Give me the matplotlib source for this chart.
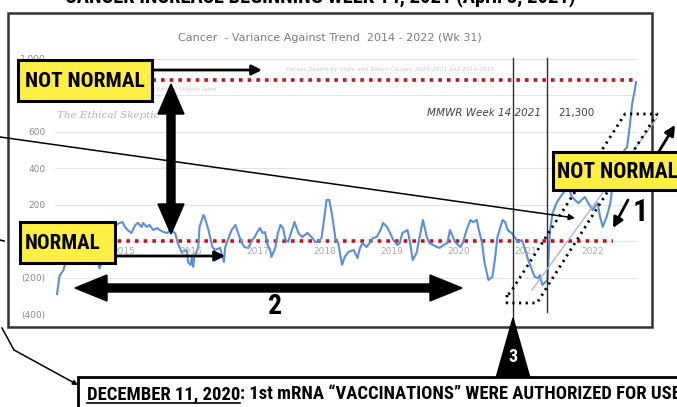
import matplotlib.pyplot as plt
from matplotlib.patches import Rectangle, Polygon
import numpy as np

# weekly variance vs trend, week 0 = 2014 wk 1
weeks = [0, 2, 5, 7, 9, 12, 15, 18, 22, 26, 30, 33, 36, 40, 43, 46, 49, 51, 53, 55, 58,
         61, 63, 66, 67, 70, 72, 75, 78, 80, 83, 86, 88, 92, 94, 97, 101, 102, 104, 105, 106,
         107, 110, 111, 114, 115, 118, 121, 123, 127, 129, 130, 131, 133, 136, 139, 141, 144, 146, 149, 152,
         154, 156, 158, 160, 162, 164, 166, 167, 170, 172, 174, 176, 178, 180, 183, 185, 188, 191, 193, 195,
         199, 201, 203, 206, 209, 210, 212, 214, 217, 219, 222, 224, 227, 231, 234, 236, 238, 241, 244, 246,
         249, 252, 254, 257, 259, 262, 265, 267, 269, 273, 275, 277, 280, 283, 285, 288, 290, 293, 296, 298,
         301, 304, 306, 310, 314, 316, 319, 322, 324, 327, 328, 331, 333, 336, 339, 341, 343, 347, 349, 351,
         354, 357, 359, 362, 364, 367, 370, 372, 375, 376, 378, 382, 383, 384, 386, 389, 392, 396, 398, 401,
         406, 411, 417, 421, 423, 425, 428, 431, 432, 435, 438, 442, 444, 446, 448, 450, 451]
variance = [-290, -190, -160, -110, -60, -20, -50, 10, -30, 20, -40, -150, -100, -10, 50, 88, 99, 104, 77, 60, 44,
            88, 99, 77, 99, 77, 88, 60, 71, 60, 49, 44, 60, 44, -11, -60, -49, -115, -131, -93, -142,
            -88, -33, 77, 142, 131, 60, -33, -49, -38, -88, -115, -33, 5, 60, 88, 44, -11, -33, -38, 5,
            22, 49, 71, 44, 49, -22, -49, -88, -38, 44, 88, 71, 5, -5, 60, 104, 44, 22, 33, 44,
            16, -5, -5, 16, 170, 225, 225, 153, 5, -11, -131, -88, -60, -49, -93, -38, -11, -33, -5, 16,
            22, 60, 99, 77, 49, 5, -22, -11, 44, 60, -11, -104, -66, 44, 115, 22, -11, -22, -33, -38,
            -22, -11, 60, -5, -33, -11, 60, 115, 104, 115, 77, -11, -120, -214, -197, -104, 22, 115, 104, 60,
            44, 16, -5, 5, -33, -104, -159, -197, -203, -186, -241, -214, -66, 60, 153, 208, 241, 280, 300, 241,
            208, 241, 170, 208, 131, 77, 131, 208, 268, 350, 430, 499, 515, 625, 756, 827, 871]

years = ['2015', '2016', '2017', '2018', '2019', '2020', '2021', '2022']
year_weeks = [52.18 * (i + 1) for i in range(len(years))]
y_ticks = [-400, -200, 0, 200, 400, 600, 800, 1000]
y_labels = ['(400)', '(200)', '-', '200', '400', '600', '800', '1,000']
upper_limit = 880
last_week_normal = 433

W, H = 677, 407
fig = plt.figure(figsize=(W / 100, H / 100), dpi=100)
fig.patch.set_facecolor('white')

condensed = ['Roboto Condensed', 'DejaVu Sans']

# chart area (pixel box 55..637 x 58.5..314)
ax = fig.add_axes([55 / W, 1 - 314 / H, (637 - 55) / W, (314 - 58.5) / H])
ax.set_xlim(-1.56, 451.7)
ax.set_ylim(-400, 1000)
for s in ax.spines.values():
    s.set_visible(False)
ax.set_yticks(y_ticks)
ax.set_yticklabels(y_labels, color='#8a8a8a', fontsize=6.5)
ax.tick_params(axis='y', length=0, pad=7)
ax.set_xticks([])
ax.grid(axis='y', color='#e4e4e4', linewidth=0.8)
ax.set_axisbelow(True)

ax.plot([0, weeks[-1]], [upper_limit, upper_limit], color='#c0141c', lw=2.6,
        linestyle=(0, (1, 1.4)), zorder=2)
ax.plot([0, last_week_normal], [0, 0], color='#c0141c', lw=2.6,
        linestyle=(0, (1, 1.4)), zorder=2)
ax.plot(weeks, variance, color='#5b8ed6', lw=1.5, zorder=3)

for lab, wk in zip(years, year_weeks):
    ax.text(wk, -60, lab, ha='center', va='center', fontsize=6.5, color='#a8a8a8')

# overlay in pixel coordinates for the annotations
ov = fig.add_axes([0, 0, 1, 1])
ov.set_xlim(0, W)
ov.set_ylim(H, 0)
ov.axis('off')
renderer = fig.canvas.get_renderer()


def fit(texts, width, size):
    # scale font size so the texts together span the given pixel width
    total = sum(t.get_window_extent(renderer).width for t in texts)
    for t in texts:
        t.set_size(size * width / total)


def bold_text(x, y, s, width=None, size=16, **kw):
    t = ov.text(x, y, s, family=condensed, fontweight='bold', fontsize=size, **kw)
    if width:
        fit([t], width, size)
    return t


def double_arrow(p0, p1, sw, hw, hl, z=6):
    p0, p1 = np.array(p0, float), np.array(p1, float)
    u = (p1 - p0) / np.linalg.norm(p1 - p0)
    n = np.array([-u[1], u[0]])
    b0, b1 = p0 + u * hl, p1 - u * hl
    pts = [p0, b0 + n * hw / 2, b0 + n * sw / 2, b1 + n * sw / 2, b1 + n * hw / 2, p1,
           b1 - n * hw / 2, b1 - n * sw / 2, b0 - n * sw / 2, b0 - n * hw / 2]
    ov.add_patch(Polygon(pts, closed=True, color='black', zorder=z))


def arrow(p0, p1, lw=2, ms=14, style='-|>', z=6):
    ov.annotate('', xy=p1, xytext=p0, zorder=z,
                arrowprops=dict(arrowstyle=style, lw=lw, color='black',
                                mutation_scale=ms, shrinkA=0, shrinkB=0))


def yellow_box(x, y, w, h, label, tx, tw):
    ov.add_patch(Rectangle((x, y), w, h, facecolor='#ffee44', edgecolor='black', lw=2.2, zorder=8))
    bold_text(tx, y + h / 2 + 1, label, width=tw, ha='left', va='center', color='black', zorder=9)


# cut-off headline at the very top
bold_text(320, -3, 'CANCER INCREASE BEGINNING WEEK 14, 2021 (April 3, 2021)', width=510,
          ha='center', va='center', color='black')

# chart frame and chart texts
ov.add_patch(Rectangle((8, 13), 644, 314, fill=False, edgecolor='#333333', lw=1.8, zorder=4))
ov.text(330, 38, 'Cancer  - Variance Against Trend  2014 - 2022 (Wk 31)', ha='center', va='center',
        fontsize=8, color='#7a7a7a')
ov.text(390, 69, 'Excess Deaths by State and Select Causes, 2020-2021 and 2014-2019',
        ha='center', va='center', fontsize=4.2, style='italic', color='#c8c8c8')
ov.text(180, 90, 'The Ethical Skeptic label', ha='center', va='center', fontsize=4.2,
        style='italic', color='#c8c8c8')
ov.text(108, 115, 'The Ethical Skeptic', ha='center', va='center', fontsize=7.5,
        style='italic', family='DejaVu Serif', color='#b0b0b0')
ov.text(541, 113, 'MMWR Week 14 2021', ha='right', va='center', fontsize=7.5,
        style='italic', color='#404040')
ov.text(558, 113, '21,300', ha='left', va='center', fontsize=7.5, color='#404040')

# vertical markers
ov.plot([513, 513], [58, 327], color='#303030', lw=1, zorder=4)
ov.plot([547, 547], [58, 312], color='#303030', lw=1, zorder=4)

# trend line and dotted band
ov.plot([532, 657], [290, 118], color='#aab8d2', lw=1, zorder=4)
band = [(507, 295), (507, 303), (537, 303), (547, 287), (657, 114), (625, 114), (510, 293)]
bx, by = zip(*(band + [band[0]]))
ov.plot(bx, by, color='black', lw=2, linestyle=(0, (0.8, 1.6)), zorder=5)

# big arrows
double_arrow((171, 84), (171, 234), 8, 26, 30)
double_arrow((75, 288), (462, 288), 8, 26, 32)
bold_text(275, 307, '2', size=20, ha='center', va='center', color='black', zorder=7)

# thin pointer lines
arrow((0, 137), (575, 218), lw=1.1, ms=9)
arrow((152, 70), (262, 70), lw=2, ms=15)
arrow((115, 256), (225, 256), lw=2, ms=15)
arrow((644, 176), (675, 125), lw=2, ms=15)
arrow((628, 200), (613, 228), lw=2, ms=15)
bold_text(640, 212, '1', size=22, ha='center', va='center', color='black', zorder=7)
ov.plot([0, 4], [240, 241], color='black', lw=1.2)
ov.plot([2, 14], [328, 350], color='black', lw=1.1)
arrow((14, 350), (78, 385), lw=1.1, ms=7)

# labels in yellow boxes
yellow_box(18, 60, 134, 41, 'NOT NORMAL', 25, 120)
yellow_box(20, 222, 95, 41, 'NORMAL', 25, 75)
yellow_box(553, 152, 140, 38, 'NOT NORMAL', 557, 121)

# "3" pointer
ov.add_patch(Polygon([(513, 318), (496, 378), (530, 378)], closed=True, color='black', zorder=7))
bold_text(513, 357, '3', size=13, ha='center', va='center', color='white', zorder=8)

# bottom caption box
ov.add_patch(Rectangle((78, 377), 640, 40, facecolor='white', edgecolor='black', lw=2, zorder=8))
t1 = bold_text(87, 394, 'DECEMBER 11, 2020', size=13, ha='left', va='center', color='black', zorder=9)
t2 = bold_text(0, 394, ': 1st mRNA \u201cVACCINATIONS\u201d WERE AUTHORIZED FOR USE', size=13,
               ha='left', va='center', color='black', zorder=9)
fit([t1, t2], 592, 13)
bb = t1.get_window_extent(renderer).transformed(ov.transData.inverted())
x_end = max(bb.x0, bb.x1)
t2.set_x(x_end)
ov.plot([87, x_end], [403, 403], color='black', lw=1.2, zorder=9)

fig.savefig('out.png', dpi=100)
